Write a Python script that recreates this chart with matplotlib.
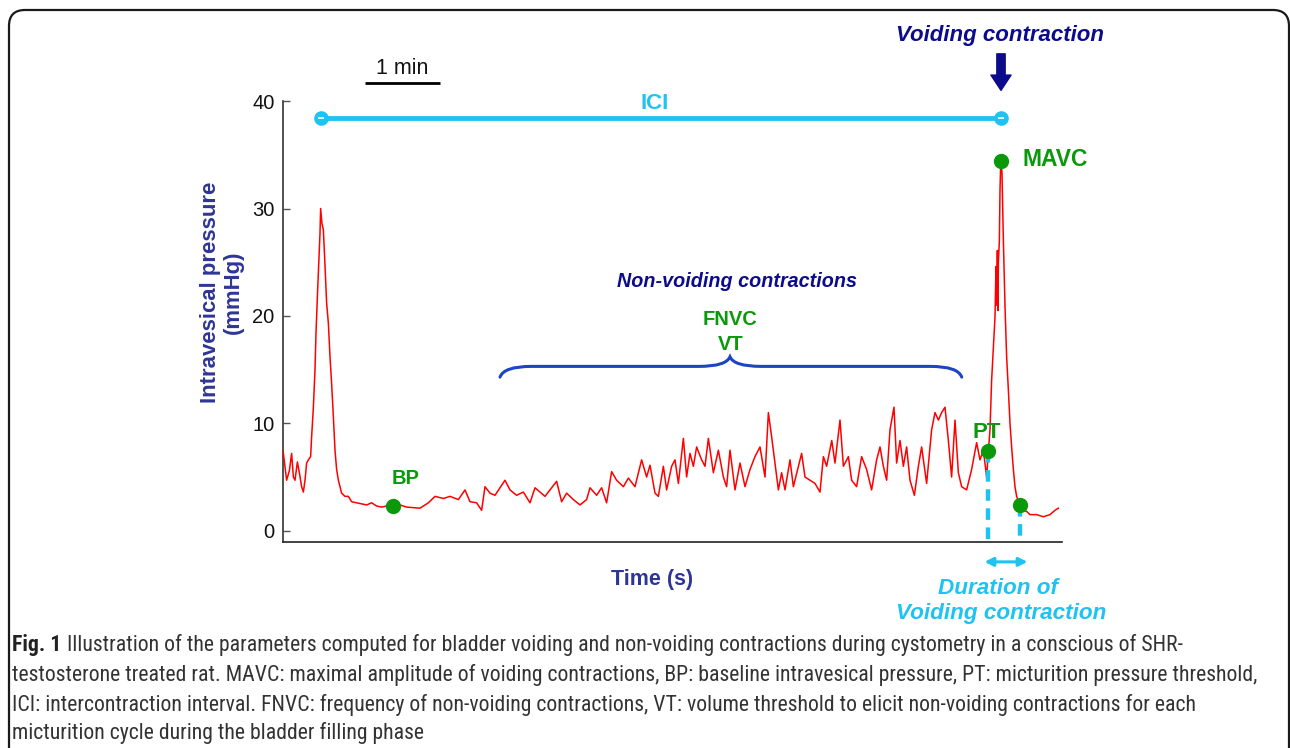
import numpy as np
import matplotlib
matplotlib.use("Agg")
import matplotlib.pyplot as plt
from matplotlib.patches import FancyBboxPatch, PathPatch
from matplotlib.path import Path
from matplotlib.transforms import IdentityTransform

# ---------------- data ----------------
time_s = [
    0.0, 1.6, 2.9, 5.1, 6.9, 8.3, 9.6, 11.5, 13.1, 14.9,
    16.3, 17.6, 18.9, 20.3, 22.1, 22.9, 24.3, 25.6, 26.4, 27.5,
    28.8, 29.6, 30.1, 31.2, 32.3, 33.3, 34.9, 36.3, 37.6, 38.9,
    40.3, 41.6, 42.9, 44.3, 45.6, 46.9, 49.6, 52.3, 54.9, 58.9,
    62.9, 66.9, 70.9, 74.9, 78.9, 82.9, 88.3,
    93.6, 98.9, 109.6, 116.3, 121.6, 128.3, 133.6, 140.3, 145.6, 149.6,
    154.9, 158.9, 161.6, 165.6, 169.6, 173.6, 177.6, 181.6, 186.9, 192.3,
    197.6, 201.6, 205.6, 209.6, 213.6, 218.9, 222.9, 226.9, 232.3, 237.6,
    242.9, 245.6, 250.9, 254.9, 258.9, 262.9, 266.9, 272.3, 276.3, 281.6,
    286.9, 290.9, 293.6,
    297.6, 300.3, 304.3, 306.9, 310.9, 313.6, 316.3, 320.3, 322.9, 325.6,
    328.3, 330.9, 334.9, 337.6, 340.3, 344.3, 348.3, 352.3, 354.9, 357.6,
    361.6, 365.6, 369.6, 373.6, 377.6, 381.6, 385.6, 388.3, 390.9, 393.6,
    396.3, 398.9, 401.6, 405.6, 408.3, 412.3, 414.9, 417.6, 421.6, 425.6,
    429.6, 432.3, 434.9, 439.0, 441.6, 445.6, 448.3, 452.3, 454.9, 458.9,
    462.9, 466.9, 470.9, 474.9, 477.6, 480.3, 482.9, 485.6, 488.8, 490.9,
    493.6, 496.3, 498.9, 501.6, 505.1, 508.3, 510.9, 514.9, 518.9, 521.6,
    524.3, 526.9, 529.6, 532.3, 534.9, 537.6, 540.3, 542.9, 546.9, 550.9,
    554.9, 557.6, 560.3, 562.9, 564.3,
    565.6, 566.9, 568.3, 569.6, 570.4, 571.0, 571.5, 572.0, 572.3, 573.1,
    573.6, 574.1, 574.4, 575.2, 576.3, 577.6, 578.9, 580.3, 581.6, 582.9,
    584.3, 585.6, 586.9, 589.6, 592.3, 594.9, 597.6, 602.9, 608.3, 613.6,
    617.6, 620.3,
]
pressure_mmHg = [
    7.5, 6.0, 4.7, 5.6, 7.2, 5.0, 4.7, 6.4, 5.4, 4.1,
    3.6, 4.7, 6.3, 6.6, 6.9, 8.75, 11.5, 15.0, 18.4, 21.8,
    25.5, 27.7, 30.0, 28.6, 28.0, 25.5, 21.2, 19.3, 16.2, 13.7,
    10.6, 7.5, 5.7, 4.7, 4.1, 3.5, 3.2, 3.2, 2.7, 2.6,
    2.5, 2.4, 2.6, 2.3, 2.2, 2.3, 2.3,
    2.4, 2.2, 2.1, 2.6, 3.2, 3.0, 3.2, 2.9, 3.8, 2.7,
    2.6, 1.9, 4.1, 3.5, 3.3, 4.0, 4.7, 3.8, 3.3, 3.6,
    2.6, 4.0, 3.6, 3.2, 3.8, 4.6, 2.7, 3.5, 2.9, 2.4,
    2.9, 4.0, 3.3, 4.0, 2.6, 5.5, 4.7, 4.1, 4.9, 4.1,
    6.6, 5.0, 6.1,
    3.5, 3.2, 6.0, 3.8, 6.0, 6.6, 4.4, 8.6, 5.0, 7.2,
    6.0, 7.8, 6.6, 6.0, 8.6, 5.4, 7.5, 5.0, 4.1, 7.5,
    3.8, 6.3, 4.1, 5.7, 6.9, 7.8, 5.0, 11.0, 8.75, 6.3,
    3.8, 5.4, 3.8, 6.6, 4.1, 6.0, 7.2, 5.0, 4.7, 4.4,
    3.6, 6.9, 6.0, 8.4, 6.3, 10.3, 6.0, 6.9, 4.7, 4.1,
    6.9, 5.7, 3.8, 6.6, 7.8, 6.0, 4.7, 9.4, 11.5, 6.3,
    8.4, 6.0, 7.8, 4.7, 3.3, 6.0, 7.8, 4.4, 9.4, 11.0,
    10.3, 11.0, 11.5, 8.4, 5.0, 10.3, 5.4, 4.1, 3.8, 5.7,
    8.2, 6.6, 7.5, 5.0, 7.4,
    9.4, 14.0, 17.1, 19.9, 24.6, 21.0, 26.1, 20.5, 25.0, 27.0,
    31.7, 33.9, 34.4, 33.3, 27.0, 20.9, 16.2, 13.1, 10.0, 7.8,
    5.7, 4.1, 3.2, 2.4, 1.9, 1.8, 1.5, 1.5, 1.3, 1.5,
    1.9, 2.1,
]

# parameter points on the trace
param_labels = ["BP", "PT", "MAVC", "END"]
param_times = [88.3, 564.3, 574.4, 589.6]

# intercontraction interval (first peak -> voiding peak)
ici_times = [30.4, 574.4]
ici_level = 38.4

yticks = [0, 10, 20, 30, 40]
scale_bar_s = 60  # 1 min

caption_lines = [
    "Illustration of the parameters computed for bladder voiding and non-voiding contractions during cystometry in a conscious of SHR-",
    "testosterone treated rat. MAVC: maximal amplitude of voiding contractions, BP: baseline intravesical pressure, PT: micturition pressure threshold,",
    "ICI: intercontraction interval. FNVC: frequency of non-voiding contractions, VT: volume threshold to elicit non-voiding contractions for each",
    "micturition cycle during the bladder filling phase",
]

# ---------------- styling ----------------
W, H = 1290, 748
RED = "#ff0000"
CYAN = "#1ec3f2"
GREEN = "#0b990b"
NAVY = "#0b0b8c"
LBLUE = "#2e3595"
BRACE = "#1c44c4"
FONT = ["Liberation Sans", "DejaVu Sans"]
plt.rcParams["font.family"] = FONT

fig = plt.figure(figsize=(W / 100, H / 100), dpi=100)


def fx(px):
    return px / W


def fy(py):
    return 1 - py / H


# axes placement (pixels of reference)
ax_l, ax_r, ax_b, ax_t = 283, 1062, 542, 101.1
ax = fig.add_axes([fx(ax_l), fy(ax_b), (ax_r - ax_l) / W, (ax_b - ax_t) / H])
ax.set_xlim(0, 623.2)
ax.set_ylim(-1.05, 40)
for s in ["top", "right"]:
    ax.spines[s].set_visible(False)
ax.spines["left"].set_color("#333333")
ax.spines["bottom"].set_color("#222222")
ax.spines["left"].set_linewidth(1.2)
ax.spines["bottom"].set_linewidth(1.2)
ax.set_xticks([])
ax.set_yticks(yticks)
ax.tick_params(axis="y", direction="in", length=5, width=1, color="#555555",
               labelsize=14.5, pad=6, labelcolor="#111111")
ax.patch.set_alpha(0)

# trace
ax.plot(time_s, pressure_mmHg, color=RED, lw=1.1, zorder=3)

# parameter dots
pvals = np.interp(param_times, time_s, pressure_mmHg)
ax.plot(param_times, pvals, "o", ms=10, color=GREEN, mec=GREEN, zorder=5, clip_on=False)

# dashed duration verticals
for t, v in zip(param_times[1::2], pvals[1::2]):
    ax.plot([t, t], [v, -1.05], color=CYAN, lw=3.2, ls=(0, (2.6, 1.7)), zorder=4,
            clip_on=False, solid_capstyle="butt", dash_capstyle="butt")

# ICI line
ax.plot(ici_times, [ici_level, ici_level], color=CYAN, lw=3.5, zorder=4,
        clip_on=False, solid_capstyle="butt")
ax.plot(ici_times, [ici_level, ici_level], "o", ms=9.5, color=CYAN, zorder=5, clip_on=False)
ax.plot(ici_times, [ici_level, ici_level], "_", ms=4, mew=1.2, color="white", zorder=6,
        clip_on=False)
ax.text(297.6, 39.8, "ICI", color=CYAN, fontsize=16, fontweight="bold",
        ha="center", va="center")

# scale bar
bar_t0 = 65.6
ax.plot([bar_t0, bar_t0 + scale_bar_s], [41.7, 41.7], color="black", lw=2, clip_on=False,
        solid_capstyle="butt")
ax.text(bar_t0 + scale_bar_s / 2, 43.0, "1 min", fontsize=15.5, ha="center", va="center",
        color="#111111")

# curly brace over the non-voiding contractions
bl, bm, br = 173.6, 357.6, 543.0
yend, yflat, ytip = 14.3, 15.3, 16.2
verts = [
    (bl, yend),
    (bl + 3, yflat), (bl + 25, yflat),
    (bm - 25, yflat),
    (bm - 3, yflat), (bm, ytip),
    (bm + 3, yflat), (bm + 25, yflat),
    (br - 25, yflat),
    (br - 3, yflat), (br, yend),
]
codes = [Path.MOVETO,
         Path.CURVE3, Path.CURVE3,
         Path.LINETO,
         Path.CURVE3, Path.CURVE3,
         Path.CURVE3, Path.CURVE3,
         Path.LINETO,
         Path.CURVE3, Path.CURVE3]
ax.add_patch(PathPatch(Path(verts, codes), fill=False, edgecolor=BRACE, lw=2.2,
                       capstyle="round", zorder=4))

# duration double arrow
ax.annotate("", xy=(595.6, -2.9), xytext=(561.2, -2.9),
            arrowprops=dict(arrowstyle="<|-|>,head_length=0.5,head_width=0.25",
                            color=CYAN, lw=2.2, shrinkA=0, shrinkB=0),
            annotation_clip=False)

# voiding contraction arrow
ax.annotate("", xy=(574.4, 41.0), xytext=(574.4, 44.4),
            arrowprops=dict(arrowstyle="simple,head_width=1.45,head_length=1.1,tail_width=0.6",
                            color=NAVY, shrinkA=0, shrinkB=0, mutation_scale=10),
            annotation_clip=False)

# ---------------- texts ----------------
def ftext(px, py, s, **kw):
    kw.setdefault("ha", "center")
    kw.setdefault("va", "center")
    return fig.text(fx(px), fy(py), s, **kw)


ftext(1000, 35, "Voiding contraction", color=NAVY, fontsize=16, fontweight="bold",
      style="italic")
ftext(1022, 160, "MAVC", color=GREEN, fontsize=16.5, fontweight="bold", ha="left")
ftext(737, 282, "Non-voiding contractions", color=NAVY, fontsize=14.2, fontweight="bold",
      style="italic")
ftext(730, 320, "FNVC", color=GREEN, fontsize=14.5, fontweight="bold")
ftext(731, 345, "VT", color=GREEN, fontsize=14.5, fontweight="bold")
ftext(406, 478, "BP", color=GREEN, fontsize=14.5, fontweight="bold")
ftext(987, 432, "PT", color=GREEN, fontsize=16, fontweight="bold")
ftext(222, 292, "Intravesical pressure\n(mmHg)", color=LBLUE, fontsize=15.9,
      fontweight="bold", rotation=90, linespacing=1.15)
ftext(652, 580, "Time (s)", color=LBLUE, fontsize=15.5, fontweight="bold")
ftext(998, 588, "Duration of", color=CYAN, fontsize=16.2, fontweight="bold", style="italic")
ftext(1001, 614, "Voiding contraction", color=CYAN, fontsize=16.2, fontweight="bold",
      style="italic")

# caption (font size fitted so every line stays within the reference line ends)
cap_font = ["Roboto Condensed", "Liberation Sans Narrow", "Roboto", "DejaVu Sans"]
cap_color = "#333333"
renderer = fig.canvas.get_renderer()
x0 = 12
line_ends = [1232, 1252, 1214, 478]
line_y = [645, 675, 705, 733]
probe_texts = ["Fig. 1 " + caption_lines[0]] + caption_lines[1:]
scales = []
for s, xe in zip(probe_texts, line_ends):
    p = fig.text(0, 0, s, fontsize=10, family=cap_font)
    scales.append(10 * (xe - x0) / p.get_window_extent(renderer).width)
    p.remove()
cap_size = min(scales)

fig_t = fig.text(fx(x0), fy(line_y[0]), "Fig. 1", fontsize=cap_size, fontweight="bold",
                 family=cap_font, color="#222222", ha="left", va="center")
bb = fig_t.get_window_extent(renderer)
sp = cap_size * 100 / 72 * 0.25
fig.text((bb.x1 + sp) / W, fy(line_y[0]), caption_lines[0], fontsize=cap_size,
         family=cap_font, color=cap_color, ha="left", va="center")
for s, yy in zip(caption_lines[1:], line_y[1:]):
    fig.text(fx(x0), fy(yy), s, fontsize=cap_size, family=cap_font, color=cap_color,
             ha="left", va="center")

# rounded frame
frame = FancyBboxPatch((9, -30), 1280, 768, boxstyle="round,pad=0,rounding_size=16",
                       transform=IdentityTransform(), fill=False, edgecolor="#1a1a1a",
                       lw=1.6)
fig.patches.append(frame)

fig.savefig("out.png", dpi=100)
